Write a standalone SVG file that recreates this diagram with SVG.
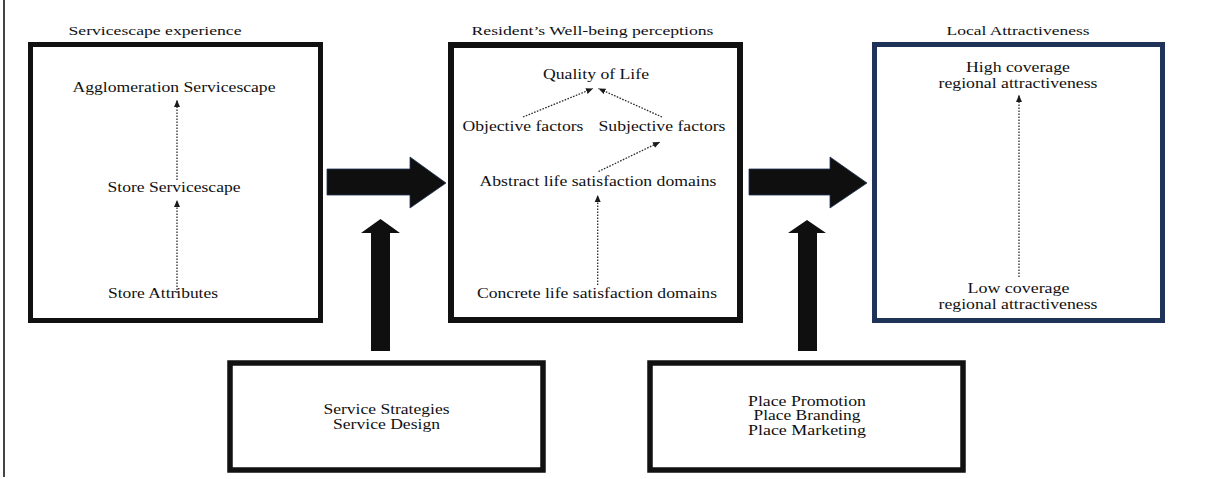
<svg xmlns="http://www.w3.org/2000/svg" width="1212" height="479" viewBox="0 0 1212 479">
<style>
  text { font-family: "Liberation Serif", "Times New Roman", serif; fill: #111111; text-anchor: middle; }
  .title { font-size: 13.5px; }
  .lbl { font-size: 14.5px; }
  .box { fill: #ffffff; stroke: #111111; }
  .navy { fill: #ffffff; stroke: #1f3358; }
  .dot { stroke: #2a2a2a; stroke-width: 1.3; stroke-dasharray: 1.6 1.4; fill: none; marker-end: url(#ah); }
  .big { fill: #0f0f0f; }
  .bigh { fill: #0f0f0f; stroke: #1f3358; stroke-width: 0.8; }
</style>
<defs>
  <marker id="ah" markerUnits="userSpaceOnUse" markerWidth="8" markerHeight="8" viewBox="0 0 8 8" refX="7" refY="4" orient="auto">
    <path d="M0,1 L7,4 L0,7 Z" fill="#1a1a1a"/>
  </marker>
</defs>
<rect x="0" y="0" width="1212" height="479" fill="#ffffff"/>
<line x1="4" y1="0" x2="4" y2="477" stroke="#444444" stroke-width="2"/>

<g id="servicescape">
  <text class="title" x="155" y="35" textLength="173" lengthAdjust="spacingAndGlyphs">Servicescape experience</text>
  <rect class="box" x="30.5" y="44.5" width="290" height="276" stroke-width="5"/>
  <text class="lbl" x="174" y="92" textLength="203" lengthAdjust="spacingAndGlyphs">Agglomeration Servicescape</text>
  <text class="lbl" x="174" y="192" textLength="133" lengthAdjust="spacingAndGlyphs">Store Servicescape</text>
  <text class="lbl" x="163" y="298" textLength="110" lengthAdjust="spacingAndGlyphs">Store Attributes</text>
</g>

<g id="wellbeing">
  <text class="title" x="592.5" y="35" textLength="242" lengthAdjust="spacingAndGlyphs">Resident’s Well-being perceptions</text>
  <rect class="box" x="451" y="45" width="289" height="275" stroke-width="6"/>
  <text class="lbl" x="596" y="79" textLength="106" lengthAdjust="spacingAndGlyphs">Quality of Life</text>
  <text class="lbl" x="523" y="131" textLength="121" lengthAdjust="spacingAndGlyphs">Objective factors</text>
  <text class="lbl" x="662" y="131" textLength="127" lengthAdjust="spacingAndGlyphs">Subjective factors</text>
  <text class="lbl" x="598" y="186" textLength="237" lengthAdjust="spacingAndGlyphs">Abstract life satisfaction domains</text>
  <text class="lbl" x="597" y="298" textLength="240" lengthAdjust="spacingAndGlyphs">Concrete life satisfaction domains</text>
</g>

<g id="attractiveness">
  <text class="title" x="1018" y="35" textLength="143" lengthAdjust="spacingAndGlyphs">Local Attractiveness</text>
  <rect class="navy" x="874.5" y="44.5" width="288" height="276" stroke-width="5"/>
  <text class="lbl" x="1018" y="72" textLength="104" lengthAdjust="spacingAndGlyphs">High coverage</text>
  <text class="lbl" x="1018" y="87.5" textLength="159" lengthAdjust="spacingAndGlyphs">regional attractiveness</text>
  <text class="lbl" x="1018.5" y="293" textLength="102" lengthAdjust="spacingAndGlyphs">Low coverage</text>
  <text class="lbl" x="1018" y="308.5" textLength="159" lengthAdjust="spacingAndGlyphs">regional attractiveness</text>
</g>

<g id="service-strategies">
  <rect class="box" x="230" y="363" width="313" height="107" stroke-width="5.5"/>
  <text class="lbl" x="386.5" y="413.5" textLength="126" lengthAdjust="spacingAndGlyphs">Service Strategies</text>
  <text class="lbl" x="386.5" y="428.5" textLength="107" lengthAdjust="spacingAndGlyphs">Service Design</text>
</g>

<g id="place">
  <rect class="box" x="650" y="363" width="313" height="107" stroke-width="5.5"/>
  <text class="lbl" x="807" y="405.5" textLength="118" lengthAdjust="spacingAndGlyphs">Place Promotion</text>
  <text class="lbl" x="807" y="420" textLength="107" lengthAdjust="spacingAndGlyphs">Place Branding</text>
  <text class="lbl" x="807" y="434.5" textLength="118" lengthAdjust="spacingAndGlyphs">Place Marketing</text>
</g>

<g id="connectors">
  <line class="dot" x1="177" y1="180" x2="177" y2="100"/>
  <line class="dot" x1="177" y1="293" x2="177" y2="200"/>
  <line class="dot" x1="523" y1="117" x2="593" y2="88.5"/>
  <line class="dot" x1="662" y1="117" x2="598.5" y2="88.5"/>
  <line class="dot" x1="598.5" y1="171.5" x2="660" y2="142"/>
  <line class="dot" x1="597.7" y1="285" x2="597.7" y2="195"/>
  <line class="dot" x1="1019" y1="277" x2="1019" y2="95"/>
  <polygon class="bigh" points="327,169 410,169 410,157 446,183 410,208 410,195 327,195"/>
  <polygon class="bigh" points="749,169 830,169 830,157 867,183 830,208 830,195 749,195"/>
  <polygon class="big" points="380.5,219 400,233 390,233 390,351 371,351 371,233 361,233"/>
  <polygon class="big" points="807,220 826,233 817,233 817,351 798,351 798,233 788,233"/>
</g>
</svg>
